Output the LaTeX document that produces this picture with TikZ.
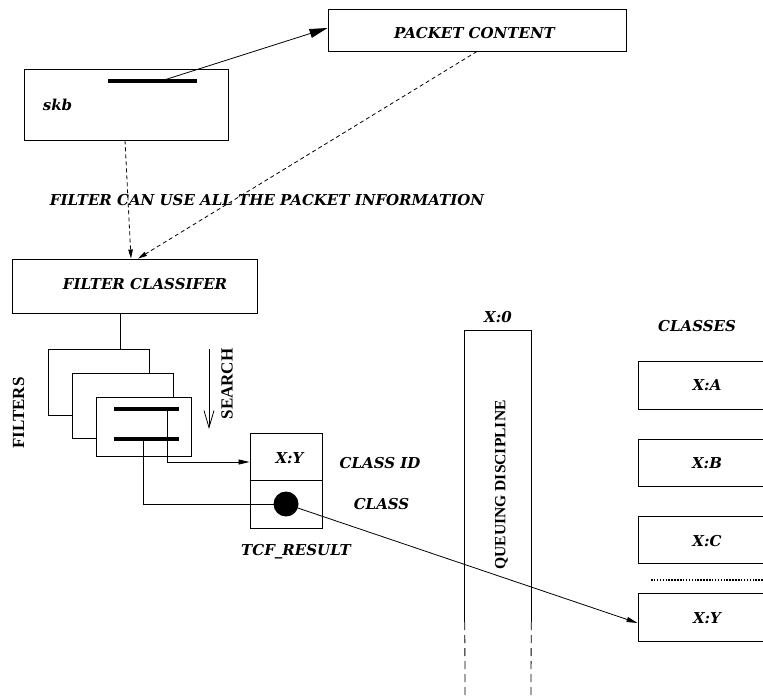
\documentclass[tikz,border=0pt]{standalone}
\usepackage{fontspec}
\setmainfont{Liberation Serif}
\newfontfamily\schoolfont{DejaVu Serif}
\usetikzlibrary{arrows.meta}
\begin{document}
\begin{tikzpicture}[x=1pt,y=-1pt,
  box/.style={draw,line width=0.9pt,fill=white,inner sep=0pt},
  lbl/.style={font=\schoolfont\fontsize{15}{16}\selectfont\bfseries\itshape,inner sep=0pt},
  rlbl/.style={font=\fontsize{17}{18}\selectfont\bfseries,inner sep=0pt,rotate=90},
  thick bar/.style={line width=3.5pt},
  conn/.style={line width=0.8pt},
  dconn/.style={line width=0.8pt,dash pattern=on 4pt off 3pt},
  bigtip/.style={-{Triangle[length=18pt,width=9pt]}},
  smalltip/.style={-{Triangle[length=9pt,width=4.5pt]}},
  midtip/.style={-{Triangle[length=11pt,width=5pt]}}]
\useasboundingbox (0,0) rectangle (763,700);
\clip (0,0) rectangle (763,700);

% top boxes
\node[box,minimum width=298pt,minimum height=42pt] (pc) at (477,30) {};
\node[lbl] (pct) at (474.5,33) {PACKET CONTENT};
\node[box,minimum width=204pt,minimum height=71pt] (skb) at (126,104.5) {};
\node[lbl] (skbt) at (57.5,105) {skb};
\coordinate (bar0a) at (108,81);
\coordinate (bar0b) at (197,81);
\coordinate (bar0m) at (161,81);
\draw[thick bar] (bar0a) -- (bar0b);
\draw[conn,bigtip] (bar0m) -- ([yshift=2pt]pc.west);

\node[lbl] (info) at (267,200) {FILTER CAN USE ALL THE PACKET INFORMATION};

% filter classifier
\node[box,minimum width=245pt,minimum height=54pt] (fc) at (134.5,286) {};
\node[lbl] (fct) at (145,284) {FILTER CLASSIFER};
\draw[dconn,smalltip] ([xshift=-1pt]skb.south) -- ([xshift=-3.5pt]fc.north);
\draw[dconn,smalltip] (pc.south) -- ([xshift=3.5pt]fc.north);

% filters
\node[box,minimum width=101pt,minimum height=66pt] (f1) at (98.5,382) {};
\node[box,minimum width=101pt,minimum height=65pt] (f2) at (122.5,405.5) {};
\node[box,minimum width=95pt,minimum height=59pt] (f3) at (143.5,426.5) {};
\draw[conn] ([xshift=-14.5pt]fc.south) -- ([xshift=21.5pt]f1.north);
\coordinate (bar1a) at (114,409);
\coordinate (bar1b) at (179,409);
\coordinate (bar1m) at (167,409);
\coordinate (bar2a) at (114,439);
\coordinate (bar2b) at (179,439);
\coordinate (bar2m) at (143,439);
\draw[thick bar] (bar1a) -- (bar1b);
\draw[thick bar] (bar2a) -- (bar2b);
\node[rlbl] (filt) at (18.5,413) {FILTERS};

% search
\coordinate (s1) at (209,349);
\coordinate (s2) at (209,429);
\draw[conn,-{Straight Barb[length=17pt,width=10pt]}] (s1) -- (s2);
\node[rlbl] (search) at (227,384) {SEARCH};

% tcf result
\node[box,minimum width=72pt,minimum height=95pt] (tcf) at (286,480.5) {};
\draw[conn] (tcf.west) -- (tcf.east);
\node[lbl] (tcfxy) at (289.5,458) {X:Y};
\node[circle,fill=black,minimum size=25pt,inner sep=0pt] (dot) at (286,504) {};
\draw[conn,midtip] (bar1m) |- ([yshift=18.5pt]tcf.west);
\draw[conn] (bar2m) |- (dot.center);
\node[lbl] (cid) at (380,463) {CLASS ID};
\node[lbl] (cls) at (381.5,504) {CLASS};
\node[lbl] (tcft) at (296,552) {TCF\_RESULT};

% queuing discipline (open at the bottom)
\node[inner sep=0pt,minimum width=66pt,minimum height=291pt] (qd) at (498,476.5) {};
\draw[line width=0.9pt] (qd.south west) -- (qd.north west) -- (qd.north east) -- (qd.south east);
\node[rlbl,font=\fontsize{15.6}{16}\selectfont\bfseries] (qdt) at (501.5,485) {QUEUING DISCIPLINE};
\node[lbl] (x0) at (498,317) {X:0};
\coordinate (qdl) at (465,700);
\coordinate (qdr) at (531,700);
\draw[conn,dash pattern=on 8pt off 5pt] (qd.south west) -- (qdl);
\draw[conn,dash pattern=on 8pt off 5pt] (qd.south east) -- (qdr);

% classes
\node[lbl] (classes) at (697,326) {CLASSES};
\node[box,minimum width=152pt,minimum height=48pt] (ca) at (714,385) {};
\node[box,minimum width=152pt,minimum height=47pt] (cb) at (714,462.5) {};
\node[box,minimum width=152pt,minimum height=47pt] (cc) at (714,539.5) {};
\node[box,minimum width=152pt,minimum height=48pt] (cy) at (714,617) {};
\node[lbl] (cat) at (707,385) {X:A};
\node[lbl] (cbt) at (707,463) {X:B};
\node[lbl] (cct) at (707,541) {X:C};
\node[lbl] (cyt) at (707,618) {X:Y};
\coordinate (dt1) at (651,580);
\coordinate (dt2) at (763,580);
\draw[line width=1.5pt,dash pattern=on 1.5pt off 1.4pt] (dt1) -- (dt2);

\draw[conn,midtip] (dot) -- ([yshift=-6pt]cy.west);
\end{tikzpicture}
\end{document}
